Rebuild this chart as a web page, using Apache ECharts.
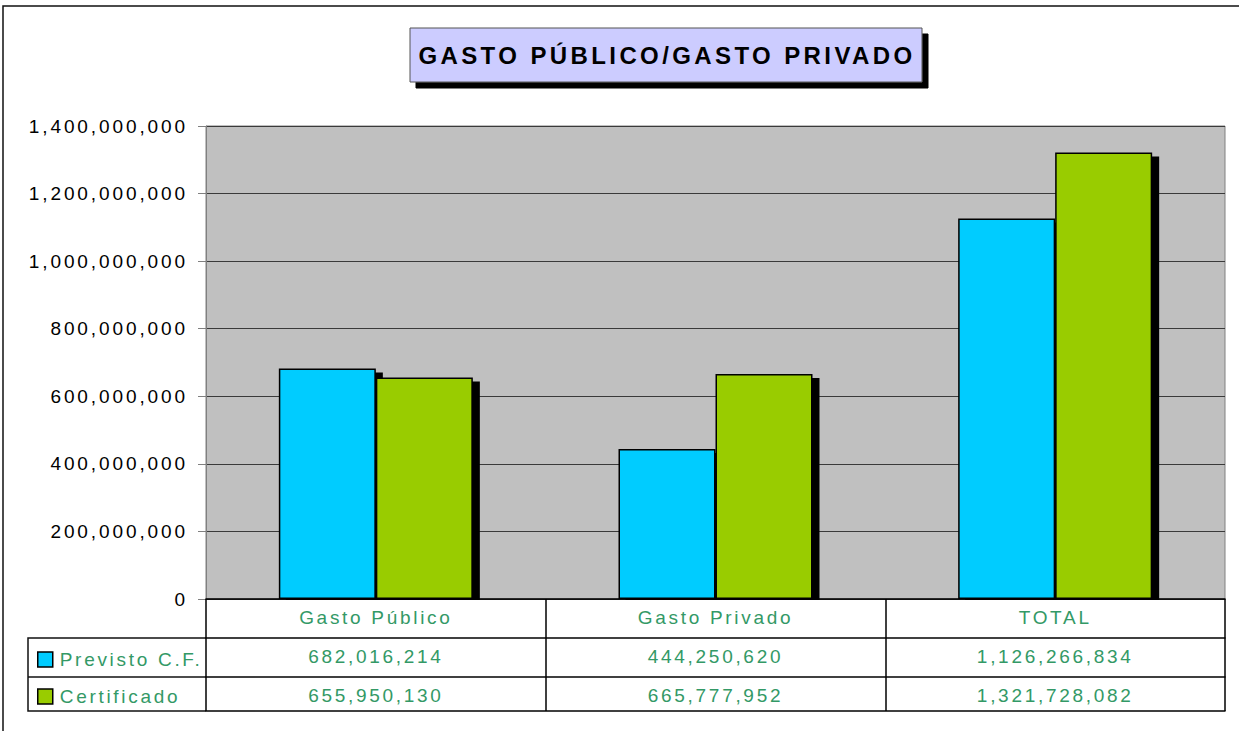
<!DOCTYPE html>
<html>
<head>
<meta charset="utf-8">
<title>Gasto Público / Gasto Privado</title>
<script src="https://cdn.jsdelivr.net/npm/echarts@6/dist/echarts.min.js"></script>
<style>
html, body { margin: 0; padding: 0; background: #fff; }
#main { width: 1239px; height: 731px; }
</style>
</head>
<body>
<div id="main"></div>
<script>
// 数据
var titulo = 'GASTO PÚBLICO/GASTO PRIVADO';
var categorias = ['Gasto Público', 'Gasto Privado', 'TOTAL'];
var nombres = ['Previsto C.F.', 'Certificado'];
var previsto = [682016214, 444250620, 1126266834];
var certificado = [655950130, 665777952, 1321728082];
var yMax = 1400000000;
var yPaso = 200000000;

var VERDE_TXT = '#339966';
var FUENTE = 'Arial, "Liberation Sans", sans-serif';

// 1,234,567
function fmt(v){
    return String(v).replace(/\B(?=(\d{3})+(?!\d))/g, ',');
}

// excel-like letter spacing (svg text only)
function espaciado(){
    var texts = document.querySelectorAll('#main svg text');
    for (var i = 0; i < texts.length; i++) {
        var cs = getComputedStyle(texts[i]);
        var fs = parseFloat(cs.fontSize);
        var fill = cs.fill || '';
        if (fs >= 23) {
            texts[i].style.letterSpacing = '3.4px';
        } else if (fill.indexOf('51, 153, 102') > -1) {
            texts[i].style.letterSpacing = '2.7px';
        } else {
            texts[i].style.letterSpacing = '2.9px';
        }
    }
}

var myChart = echarts.init(document.getElementById('main'), null, {renderer: 'svg'});

// table rows under the plot = extra category axes
function filaEje(datos, offset, tickLen){
    return {
        type: 'category',
        data: datos,
        position: 'bottom',
        offset: offset,
        z: 5,
        axisLine: {show: true, lineStyle: {color: '#000', width: 1.5}},
        axisTick: {show: tickLen > 0, length: tickLen, lineStyle: {color: '#000', width: 1.5}},
        axisLabel: {show: true, margin: 9, color: VERDE_TXT, fontSize: 19, fontFamily: FUENTE},
        splitLine: {show: false}
    };
}

var sombra = {
    borderColor: '#000',
    borderWidth: 1.5,
    shadowColor: '#000',
    shadowBlur: 0,
    shadowOffsetX: 7,
    shadowOffsetY: 4
};

myChart.setOption({
    animation: false,
    backgroundColor: '#fff',
    textStyle: {fontFamily: FUENTE},
    title: {
        text: titulo,
        left: 667,
        top: 43,
        textAlign: 'center',
        padding: 0,
        z: 10,
        textStyle: {fontSize: 24, fontWeight: 'bold', color: '#000', fontFamily: FUENTE}
    },
    legend: {
        data: nombres,
        orient: 'vertical',
        left: 37,
        top: 650,
        padding: 0,
        itemWidth: 15,
        itemHeight: 15,
        itemGap: 18,
        icon: 'rect',
        selectedMode: false,
        itemStyle: {borderColor: '#000', borderWidth: 1.5, shadowColor: 'rgba(0,0,0,0)', shadowOffsetX: 0, shadowOffsetY: 0},
        textStyle: {color: VERDE_TXT, fontSize: 19, fontFamily: FUENTE, padding: [0, 0, 0, 2]}
    },
    grid: {
        left: 206,
        right: 14,
        top: 126,
        bottom: 132,
        show: true,
        backgroundColor: '#c0c0c0',
        borderColor: '#808080',
        borderWidth: 1
    },
    graphic: [
        // marco exterior
        {type: 'rect', z: -10, silent: true, shape: {x: 3, y: 6, width: 1300, height: 800},
            style: {fill: 'none', stroke: '#111', lineWidth: 1.5}},
        // caja del titulo
        {type: 'rect', z: 1, silent: true, shape: {x: 410, y: 28, width: 512, height: 54},
            style: {fill: '#ccccff', stroke: '#555', lineWidth: 1, shadowColor: '#000', shadowBlur: 0, shadowOffsetX: 6, shadowOffsetY: 6}},
        // columna de leyenda
        {type: 'polyline', silent: true, shape: {points: [[206, 638], [28, 638], [28, 711], [206, 711]]},
            style: {fill: 'none', stroke: '#111', lineWidth: 1.5}},
        {type: 'line', silent: true, shape: {x1: 28, y1: 677, x2: 206, y2: 677},
            style: {stroke: '#111', lineWidth: 1.5}},
        // tapa la sombra bajo el eje
        {type: 'rect', z: 3, silent: true, shape: {x: 207, y: 600, width: 1017, height: 8},
            style: {fill: '#fff'}}
    ],
    xAxis: [
        filaEje(categorias, 0, 39),
        filaEje(previsto.map(fmt), 39, 39),
        filaEje(certificado.map(fmt), 78, 34),
        {
            type: 'category', data: categorias, position: 'bottom', offset: 112, z: 5,
            axisLine: {show: true, lineStyle: {color: '#000', width: 1.5}},
            axisTick: {show: false}, axisLabel: {show: false}
        }
    ],
    yAxis: {
        type: 'value',
        min: 0,
        max: yMax,
        interval: yPaso,
        axisLine: {show: true, lineStyle: {color: '#808080', width: 1}},
        axisTick: {show: true, length: 8, lineStyle: {color: '#808080'}},
        axisLabel: {
            margin: 18,
            color: '#000',
            fontSize: 19,
            fontFamily: FUENTE,
            formatter: function(v){ return fmt(v); }
        },
        splitLine: {show: true, lineStyle: {color: '#3a3a3a', width: 1}}
    },
    series: [
        {
            name: nombres[0],
            type: 'bar',
            xAxisIndex: 0,
            data: previsto,
            barWidth: 97,
            barGap: '0%',
            silent: true,
            itemStyle: Object.assign({color: '#00ccff'}, sombra)
        },
        {
            name: nombres[1],
            type: 'bar',
            xAxisIndex: 0,
            data: certificado,
            barWidth: 97,
            barGap: '0%',
            silent: true,
            itemStyle: Object.assign({color: '#99cc00'}, sombra)
        }
    ]
});

espaciado();
myChart.on('finished', espaciado);
</script>
</body>
</html>
